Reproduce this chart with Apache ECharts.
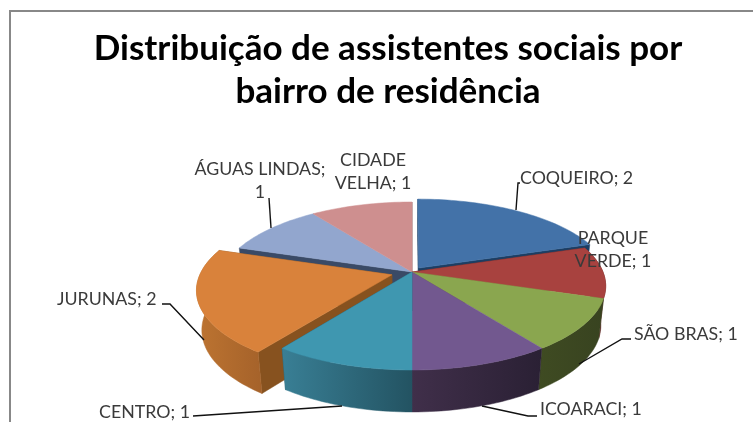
<!DOCTYPE html>
<html>
<head>
<meta charset="utf-8">
<style>
    html, body { margin: 0; padding: 0; background: #fff; }
    #pieChart { width: 753px; height: 422px; }
</style>
</head>
<body>
<div id="pieChart"></div>
<script src="https://cdn.jsdelivr.net/npm/echarts@6/dist/echarts.min.js"></script>
<script>
    const titleText = 'Distribuição de assistentes sociais por\nbairro de residência'
    const bairros = ['COQUEIRO', 'PARQUE VERDE', 'SÃO BRAS', 'ICOARACI', 'CENTRO', 'JURUNAS', 'ÁGUAS LINDAS', 'CIDADE VELHA']
    const valores = [2, 1, 1, 1, 1, 2, 1, 1]

    // cores de cada fatia: topo, lateral (esq -> dir) e face do corte
    const topColors = ['#4372A8', '#A8423F', '#8AA64F', '#72588F', '#3F97B0', '#D9823B', '#92A6CE', '#CE8F8F']
    const sideColors = [['#2B4B70', '#2B4B70'], ['#5E2523', '#5E2523'], ['#3F4B22', '#384320'], ['#402F4A', '#2A2034'],
        ['#397F95', '#235362'], ['#BD7431', '#A5622A'], ['#56647E', '#56647E'], ['#7E5656', '#7E5656']]
    const cutColors = ['#1C3E63', '#5E2523', '#3F4B22', '#2E2338', '#235362', '#87521F', '#3A4A66', '#7E5656']
    const explode = [0.06, 0, 0, 0, 0, 0.11, 0, 0]
    const drawOrder = [6, 7, 0, 1, 5, 2, 3, 4]

    // geometria da pizza em perspectiva
    const cx = 412, cy = 272, R = 191, A = 81.67, persp = 0.1667
    const cyBottom = 311, kxBottom = 0.975, kyBottom = 1.03

    const total = valores.reduce((a, b) => a + b, 0)
    let acum = 0
    const fatias = valores.map((v, i) => {
        const ini = acum / total * 360
        acum += v
        return { name: bairros[i], value: [ini, acum / total * 360, i] }
    })

    function project (x, z, bottom) {
        const s = 1 / (1 - persp * z)
        if (bottom) {
            return [cx + kxBottom * R * x * s, cyBottom + kyBottom * A * z * s]
        }
        return [cx + R * x * s, cy + A * z * s]
    }

    function rimPoint (deg, off, bottom) {
        const t = deg * Math.PI / 180
        return project(Math.sin(t) + off[0], -Math.cos(t) + off[1], bottom)
    }

    function arc (ini, fim, off, bottom) {
        const pts = []
        const n = Math.ceil((fim - ini) / 1.5)
        for (let k = 0; k <= n; k++) {
            pts.push(rimPoint(ini + (fim - ini) * k / n, off, bottom))
        }
        return pts
    }

    function poly (points, fill) {
        return { type: 'polygon', shape: { points: points }, style: { fill: fill, stroke: fill, lineWidth: 0.5 } }
    }

    function cutFace (deg, off, color) {
        return poly([project(off[0], off[1], false), rimPoint(deg, off, false),
            rimPoint(deg, off, true), project(off[0], off[1], true)], color)
    }

    function renderSlice (params, api) {
        const ini = api.value(0)
        const fim = api.value(1)
        const i = api.value(2)
        const n = valores.length
        const mid = (ini + fim) / 2 * Math.PI / 180
        const off = [explode[i] * Math.sin(mid), -explode[i] * Math.cos(mid)]
        const children = []
        if (explode[i] > 0 || explode[(i + n - 1) % n] > 0) {
            children.push(cutFace(ini, off, cutColors[i]))
        }
        if (explode[i] > 0 || explode[(i + 1) % n] > 0) {
            children.push(cutFace(fim, off, cutColors[i]))
        }
        // lateral so aparece nas fatias da frente
        if (Math.cos(mid) < 0.3) {
            const side = arc(ini, fim, off, false).concat(arc(ini, fim, off, true).reverse())
            children.push(poly(side, new echarts.graphic.LinearGradient(0, 0, 1, 0, [
                { offset: 0, color: sideColors[i][0] },
                { offset: 1, color: sideColors[i][1] }
            ])))
        }
        children.push(poly([project(off[0], off[1], false)].concat(arc(ini, fim, off, false)), topColors[i]))
        return { type: 'group', children: children }
    }

    function rotulo (i, quebra, x, y, align) {
        return {
            type: 'text',
            z: 10,
            x: x,
            y: y,
            style: {
                text: quebra.replace('%v', valores[i]),
                fill: '#3A3A3A',
                font: '17.8px Lato',
                lineHeight: 23,
                align: align,
                verticalAlign: 'middle'
            }
        }
    }

    function guia (points) {
        return {
            type: 'polyline',
            z: 10,
            shape: { points: points },
            style: { stroke: '#111', lineWidth: 1.4, fill: null }
        }
    }

    const myChart = echarts.init(document.getElementById('pieChart'))
    const option = {
        animation: false,
        title: {
            text: titleText,
            left: 383,
            top: 22,
            textAlign: 'center',
            textStyle: {
                fontFamily: 'Lato',
                fontWeight: 'bold',
                fontSize: 35,
                lineHeight: 43,
                color: '#000'
            }
        },
        series: [{
            type: 'custom',
            coordinateSystem: 'none',
            renderItem: renderSlice,
            data: drawOrder.map(i => fatias[i])
        }],
        graphic: [
            { type: 'polyline', shape: { points: [[10, 422], [10, 11], [753, 11]] }, style: { stroke: '#888', lineWidth: 2, fill: null } },
            guia([[520, 183], [518, 183], [516, 210]]),
            guia([[269, 198], [271, 228]]),
            guia([[631, 339], [622, 339], [579, 364]]),
            guia([[537, 416], [528, 416], [482, 406]]),
            guia([[162, 304], [170, 304], [204, 340]]),
            guia([[193, 416], [342, 406]]),
            rotulo(0, 'COQUEIRO; %v', 520, 178, 'left'),
            rotulo(1, 'PARQUE\nVERDE; %v', 613, 250, 'center'),
            rotulo(2, 'SÃO BRAS; %v', 634, 334, 'left'),
            rotulo(3, 'ICOARACI; %v', 540, 409, 'left'),
            rotulo(4, 'CENTRO; %v', 99, 412, 'left'),
            rotulo(5, 'JURUNAS; %v', 57, 299, 'left'),
            rotulo(6, 'ÁGUAS LINDAS;\n%v', 260, 181, 'center'),
            rotulo(7, 'CIDADE\nVELHA; %v', 373, 172, 'center')
        ]
    }
    myChart.setOption(option)
</script>
</body>
</html>
